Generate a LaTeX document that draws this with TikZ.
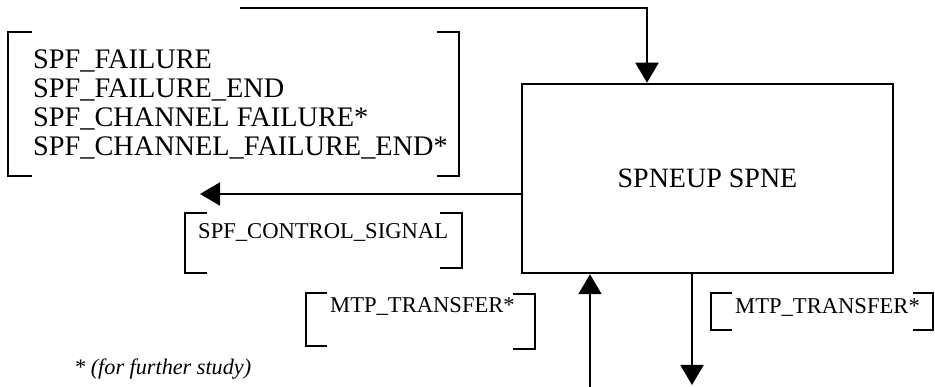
\documentclass[tikz,border=0pt]{standalone}
\usepackage{fontspec}
\setmainfont{Liberation Serif}
\usepackage{tikz}
\usetikzlibrary{arrows.meta,positioning,calc}

\tikzset{
  sigline/.style={line width=2pt, -{Triangle[length=20pt,width=23pt]}},
  blockbox/.style={draw, line width=2.5pt, minimum width=371pt, minimum height=189pt, inner sep=0pt, font=\fontsize{28}{30}\selectfont},
  brkt/.style={line width=2.5pt},
  sigtext/.style={inner sep=0pt, anchor=base west, font=\fontsize{22.6}{26}\selectfont}
}

\begin{document}
\begin{tikzpicture}[x=1pt,y=-1pt]
            \useasboundingbox (0,0) rectangle (935,387);
            % main block
            \node[blockbox] (spne) at (707.5,178.5) {SPNEUP SPNE};

            % signal list, upper left
            \node[inner sep=0pt, anchor=north west, align=left, font=\fontsize{28.3}{28.7}\selectfont] (faillist) at (33,50) {
                SPF\_FAILURE\\
                SPF\_FAILURE\_END\\
                SPF\_CHANNEL FAILURE*\\
                SPF\_CHANNEL\_FAILURE\_END*
            };
            \draw[brkt] (32,32) -- (8,32) -- (8,176) -- (32,176);
            \draw[brkt] (437,32) -- (459,32) -- (459,176) -- (437,176);

            \node[sigtext] (ctlsig) at (198,239) {SPF\_CONTROL\_SIGNAL};
            \draw[brkt] (207,213) -- (185,213) -- (185,273) -- (207,273);
            \draw[brkt] (440,213) -- (462,213) -- (462,268) -- (440,268);

            \node[sigtext] (mtpin) at (330,313) {MTP\_TRANSFER*};
            \draw[brkt] (327,293) -- (306,293) -- (306,346) -- (327,346);
            \draw[brkt] (513,294) -- (535,294) -- (535,349) -- (513,349);

            \node[sigtext] (mtpout) at (735,314) {MTP\_TRANSFER*};
            \draw[brkt] (732,293) -- (711,293) -- (711,330) -- (732,330);
            \draw[brkt] (913,293) -- (933,293) -- (933,330) -- (913,330);

            \node[inner sep=0pt, anchor=base west, font=\itshape\fontsize{22.2}{24}\selectfont] (note) at (74,375) {* (for further study)};

            % connectors
            \coordinate (topin) at (240,8);
            \coordinate (ctlout) at (200,194);
            \coordinate (botin) at (590,387);
            \coordinate (botout) at (692,385);
            \draw[sigline] (topin) -| ([xshift=-60.5pt]spne.north);
            \draw[sigline] ([yshift=-15.5pt]spne.west) -- (ctlout);
            \draw[sigline] (botin) -- ([xshift=-117.5pt]spne.south);
            \draw[sigline] ([xshift=-15.5pt]spne.south) -- (botout);
        \end{tikzpicture}
\end{document}
